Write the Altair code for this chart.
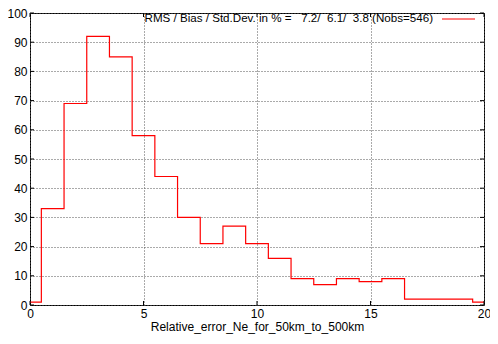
import altair as alt
import pandas as pd

# ---- data ----
centers = list(range(0, 21))
counts = [1, 33, 69, 92, 85, 58, 44, 30, 21, 27, 21, 16, 9, 7, 9, 8, 9, 2, 2, 2, 1]
x_ticks = [0, 5, 10, 15, 20]
y_ticks = list(range(0, 101, 10))
legend_text = "RMS / Bias / Std.Dev. in % =\u00a0\u00a0\u00a07.2/\u00a0\u00a06.1/\u00a0\u00a03.8 (Nobs=546)"
x_title = "Relative_error_Ne_for_50km_to_500km"

W, H = 454, 292
FONT = "Liberation Sans"
TICK = 4

df = pd.DataFrame({"x": centers, "n": counts})
xt = pd.DataFrame({"x": x_ticks})
yt = pd.DataFrame({"y": y_ticks})

xs = alt.Scale(domain=[0, 20], nice=False, zero=False)
ys = alt.Scale(domain=[0, 100], nice=False)

common = dict(grid=True, gridDash=[1, 2], gridColor="#555555", gridOpacity=1, gridWidth=1,
              domain=False, ticks=False, labelFont=FONT, labelFontSize=12,
              labelColor="#000", labelFlush=False, labelOverlap=False)

x_axis = alt.Axis(values=x_ticks, title=x_title, labelPadding=3,
                  titleFont=FONT, titleFontSize=12, titleFontWeight="normal",
                  titleColor="#000", titlePadding=2, **common)
y_axis = alt.Axis(values=y_ticks, title=None, labelPadding=3, **common)

line = alt.Chart(df).mark_line(interpolate="step", color="#ff0000", strokeWidth=1.2).encode(
    x=alt.X("x:Q", scale=xs, axis=x_axis, title=x_title),
    y=alt.Y("n:Q", scale=ys, axis=y_axis, title=None),
)

ytick_l = alt.Chart(yt).mark_rule(color="#000", strokeWidth=1).encode(
    y=alt.Y("y:Q", scale=ys, axis=y_axis, title=None), x=alt.value(0), x2=alt.value(TICK))
ytick_r = alt.Chart(yt).mark_rule(color="#000", strokeWidth=1).encode(
    y=alt.Y("y:Q", scale=ys, axis=y_axis, title=None), x=alt.value(W - TICK), x2=alt.value(W))
xtick_b = alt.Chart(xt).mark_rule(color="#000", strokeWidth=1).encode(
    x=alt.X("x:Q", scale=xs, axis=x_axis, title=x_title), y=alt.value(H - TICK), y2=alt.value(H))
xtick_t = alt.Chart(xt).mark_rule(color="#000", strokeWidth=1).encode(
    x=alt.X("x:Q", scale=xs, axis=x_axis, title=x_title), y=alt.value(0), y2=alt.value(TICK))

leg_text = alt.Chart(pd.DataFrame({"t": [legend_text]})).mark_text(
    align="right", baseline="middle", font=FONT, fontSize=11.6, color="#000"
).encode(text="t:N", x=alt.value(403), y=alt.value(6))

leg_line = alt.Chart(pd.DataFrame({"t": [legend_text]})).mark_rule(
    color="#ff0000", strokeWidth=1.2
).encode(x=alt.value(412), x2=alt.value(445), y=alt.value(6))

chart = alt.layer(line, ytick_l, ytick_r, xtick_b, xtick_t, leg_text, leg_line).properties(
    width=W, height=H,
    autosize=alt.AutoSizeParams(type="none"),
    padding={"left": 22, "top": 5, "right": 6, "bottom": 31},
    background="white",
).configure_view(stroke="#000", strokeWidth=1)

chart.save("out.html", embed_options={"renderer": "svg", "actions": False})
